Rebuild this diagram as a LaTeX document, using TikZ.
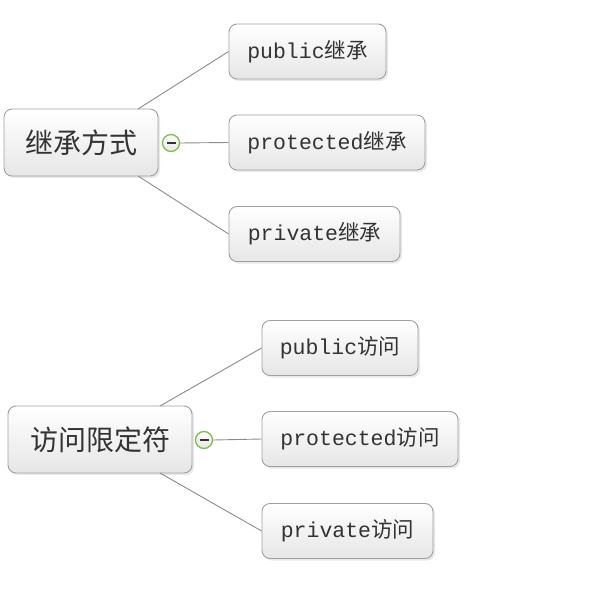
\documentclass[tikz,border=0pt]{standalone}
\usepackage{fontspec}
\setmonofont{Liberation Mono}
\newfontfamily\cjk{Noto Sans CJK SC}
\usetikzlibrary{shadows}
\definecolor{boxline}{HTML}{A0A0A0}
\definecolor{boxbot}{HTML}{E6E6E6}
\definecolor{conn}{HTML}{8C8C8C}
\definecolor{txt}{HTML}{333333}
\definecolor{mgreen}{HTML}{7DBE4F}
\tikzset{
  box/.style={draw=boxline, line width=0.9pt, rounded corners=8pt, top color=white, bottom color=boxbot,
    drop shadow={opacity=0.18, shadow xshift=2pt, shadow yshift=-2pt},
    inner sep=0pt, anchor=center, text=txt},
  rootbox/.style={box, font=\cjk\fontsize{28}{32}\selectfont},
  leafbox/.style={box, font=\ttfamily\fontsize{21.5}{24}\selectfont, minimum height=55pt},
  conn/.style={draw=conn, line width=0.9pt},
  minus/.style={circle, draw=mgreen, line width=1.3pt, top color=white, bottom color=boxbot, minimum size=17pt, inner sep=0pt},
}
\begin{document}
\begin{tikzpicture}[x=1pt,y=1pt]
\useasboundingbox (0,0) rectangle (600,-609);
% group 1
\node[rootbox, minimum width=154pt, minimum height=67pt] (r1) at (81,-142.5) {继承方式};
\node[leafbox, minimum width=157pt] (a1) at (307.5,-51.5) {public{\cjk 继承}};
\node[leafbox, minimum width=196pt] (a2) at (327,-142.5) {protected{\cjk 继承}};
\node[leafbox, minimum width=171pt] (a3) at (314.5,-234) {private{\cjk 继承}};
\node[minus] (m1) at (171,-143) {};
\draw[conn] (m1.east) -- (a2.west);
\draw[conn] (138,-109) coordinate (c1) -- (a1.west);
\draw[conn] (138,-176) coordinate (c2) -- (a3.west);
\draw[txt, line width=1.3pt] ([xshift=-4.5pt]m1.center) -- ([xshift=4.5pt]m1.center);
% group 2
\node[rootbox, minimum width=184pt, minimum height=67pt] (r2) at (100,-439.5) {访问限定符};
\node[leafbox, minimum width=156pt] (b1) at (340,-348) {public{\cjk 访问}};
\node[leafbox, minimum width=196pt] (b2) at (360,-439) {protected{\cjk 访问}};
\node[leafbox, minimum width=171pt] (b3) at (347.5,-531) {private{\cjk 访问}};
\node[minus] (m2) at (204,-440) {};
\draw[conn] (m2.east) -- (b2.west);
\draw[conn] (160,-406) coordinate (c3) -- (b1.west);
\draw[conn] (160,-473) coordinate (c4) -- (b3.west);
\draw[txt, line width=1.3pt] ([xshift=-4.5pt]m2.center) -- ([xshift=4.5pt]m2.center);
\end{tikzpicture}
\end{document}
